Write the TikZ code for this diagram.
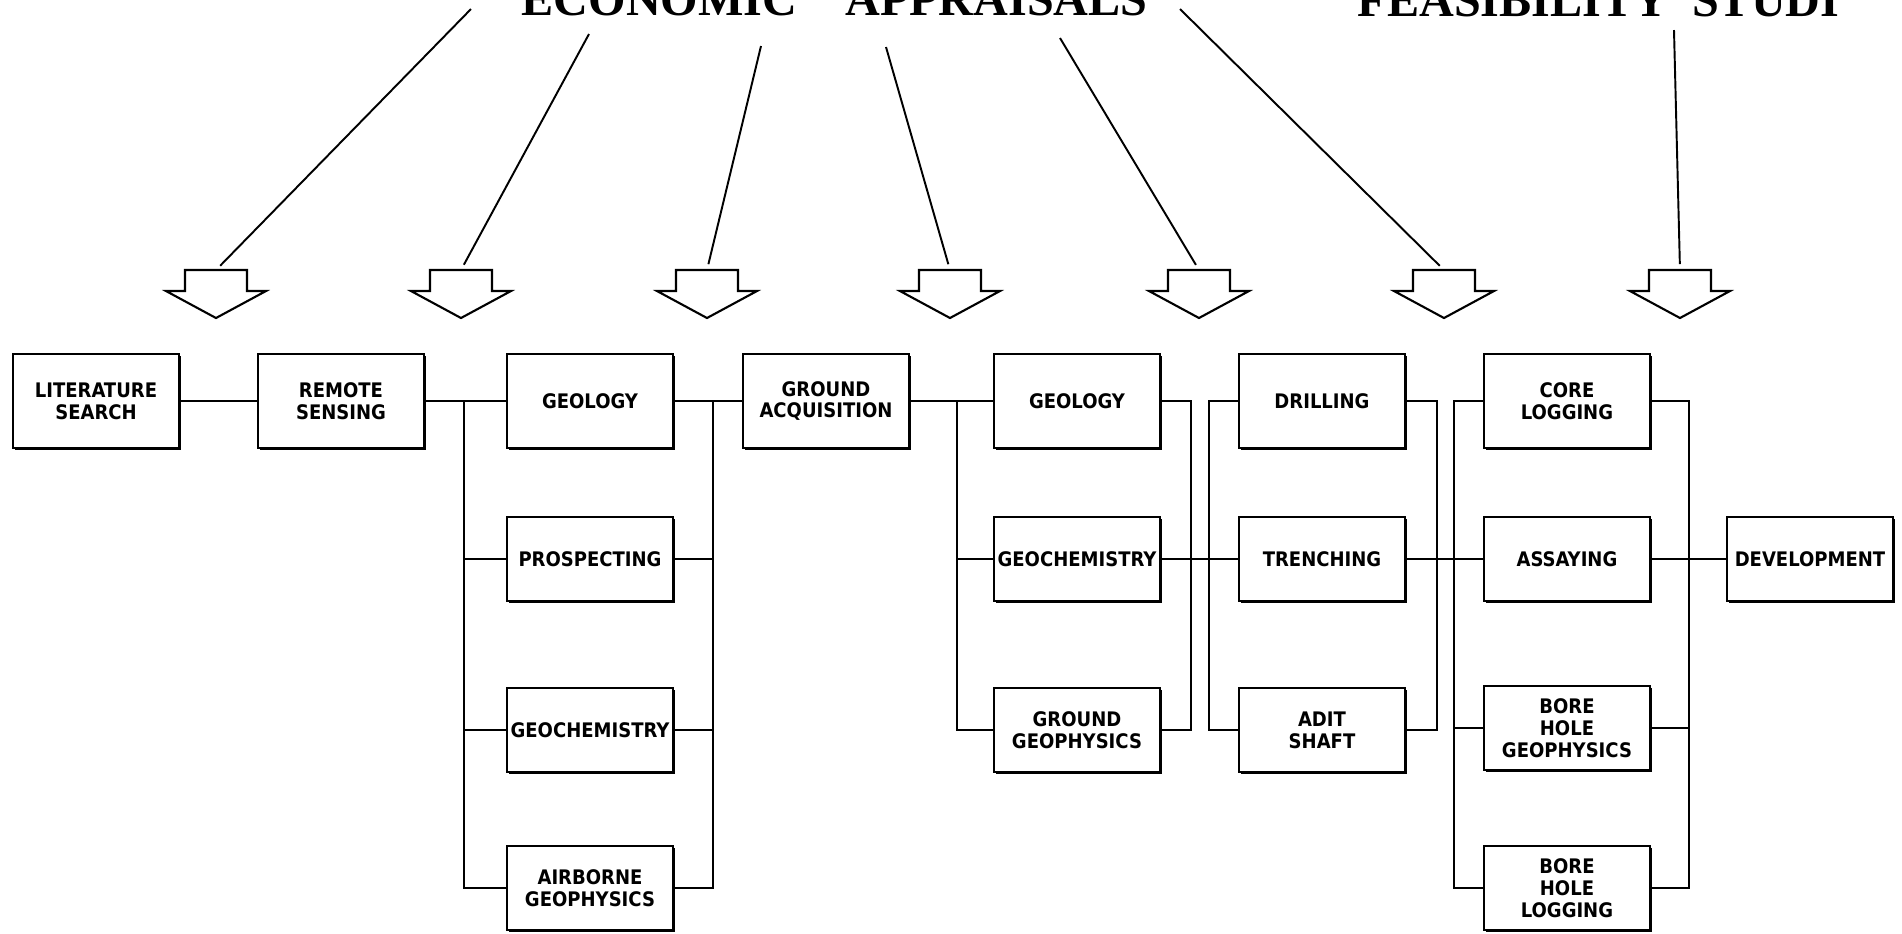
\documentclass[tikz,border=0pt]{standalone}
\usepackage{fontspec}
\newfontfamily\boxfont{DejaVu Sans Condensed}
\newfontfamily\titlefont{Liberation Serif}
\usepackage{tikz}
\usetikzlibrary{positioning, shadows}

\tikzset{
  stage/.style={rectangle, draw, fill=white, line width=0.6pt, minimum width=16.6mm, minimum height=8.4mm, inner sep=0pt, align=center, font={\boxfont\bfseries\fontsize{5.7}{6.2}\selectfont}, drop shadow={shadow xshift=0.22mm, shadow yshift=-0.22mm, opacity=1, fill=black}},
  toprow/.style={minimum height=9.4mm},
  link/.style={line width=0.45pt},
  feed/.style={line width=0.55pt, shorten >=0.6mm},
  titletext/.style={anchor=base west, inner sep=0pt, font={\titlefont\bfseries\fontsize{13.7}{15}\selectfont}},
  bigarrow/.pic={
    \draw[line width=0.6pt, line join=miter] (-31,0) -- (31,0) -- (31,21) -- (50,21) -- (0,48) -- (-50,21) -- (-31,21) -- cycle;
    \coordinate (-top) at (0,0);
  }
}

\begin{document}
\begin{tikzpicture}[x=0.1mm, y=-0.1mm]

\useasboundingbox (0,0) rectangle (1902,933);
\clip (0,0) rectangle (1902,933);

% Headings (cut at the top edge)
\node[titletext] (econ) at (521,15) {ECONOMIC\quad APPRAISALS};
\node[titletext] (feas) at (1357,16) {FEASIBILITY\enspace STUDI};

% Hollow arrows
\pic (ar1) at (216,270) {bigarrow};
\pic (ar2) at (461,270) {bigarrow};
\pic (ar3) at (707,270) {bigarrow};
\pic (ar4) at (950,270) {bigarrow};
\pic (ar5) at (1199,270) {bigarrow};
\pic (ar6) at (1444,270) {bigarrow};
\pic (ar7) at (1680,270) {bigarrow};

% Lines from the headings
\coordinate (t1) at (471,9);
\coordinate (t2) at (589,34);
\coordinate (t3) at (761,46);
\coordinate (t4) at (886,47);
\coordinate (t5) at (1060,38);
\coordinate (t6) at (1180,9);
\coordinate (t7) at (1674,30);
\draw[feed] (t1) -- (ar1-top);
\draw[feed] (t2) -- (ar2-top);
\draw[feed] (t3) -- (ar3-top);
\draw[feed] (t4) -- (ar4-top);
\draw[feed] (t5) -- (ar5-top);
\draw[feed] (t6) -- (ar6-top);
\draw[feed] (t7) -- (ar7-top);

% Stages, first row
\node[stage, toprow] (lit) at (96,401) {LITERATURE\\SEARCH};
\node[stage, toprow] (remote) at (341,401) {REMOTE\\SENSING};
\node[stage, toprow] (geoA) at (590,401) {GEOLOGY};
\node[stage, toprow] (ground) at (826,401) {GROUND\\ACQUISITION};
\node[stage, toprow] (geoB) at (1077,401) {GEOLOGY};
\node[stage, toprow] (drill) at (1322,401) {DRILLING};
\node[stage, toprow] (core) at (1567,401) {CORE\\LOGGING};

% Second row
\node[stage] (prosp) at (590,559) {PROSPECTING};
\node[stage] (geochemB) at (1077,559) {GEOCHEMISTRY};
\node[stage] (trench) at (1322,559) {TRENCHING};
\node[stage] (assay) at (1567,559) {ASSAYING};
\node[stage] (develop) at (1810,559) {DEVELOPMENT};

% Third row
\node[stage] (geochemA) at (590,730) {GEOCHEMISTRY};
\node[stage] (groundgeo) at (1077,730) {GROUND\\GEOPHYSICS};
\node[stage] (adit) at (1322,730) {ADIT\\SHAFT};
\node[stage] (bhgeo) at (1567,728) {BORE\\HOLE\\GEOPHYSICS};

% Fourth row
\node[stage] (airborne) at (590,888) {AIRBORNE\\GEOPHYSICS};
\node[stage] (bhlog) at (1567,888) {BORE\\HOLE\\LOGGING};

% Vertical buses
\coordinate (bus1) at (464,401);
\coordinate (bus2) at (713,401);
\coordinate (bus3) at (957,401);
\coordinate (bus4) at (1191,401);
\coordinate (bus5) at (1209,401);
\coordinate (bus6) at (1437,401);
\coordinate (bus7) at (1454,401);
\coordinate (bus8) at (1689,401);

% Links
\draw[link] (lit) -- (remote);
\draw[link] (remote) -- (geoA);
\draw[link] (bus1) -- (bus1 |- airborne.west) -- (airborne.west);
\draw[link] (bus1 |- prosp.west) -- (prosp.west);
\draw[link] (bus1 |- geochemA.west) -- (geochemA.west);

\draw[link] (geoA) -- (ground);
\draw[link] (bus2) -- (bus2 |- airborne.east) -- (airborne.east);
\draw[link] (prosp.east) -- (bus2 |- prosp.east);
\draw[link] (geochemA.east) -- (bus2 |- geochemA.east);

\draw[link] (ground) -- (geoB);
\draw[link] (bus3) -- (bus3 |- groundgeo.west) -- (groundgeo.west);
\draw[link] (bus3 |- geochemB.west) -- (geochemB.west);

\draw[link] (geoB.east) -- (bus4) -- (bus4 |- groundgeo.east) -- (groundgeo.east);
\draw[link] (drill.west) -- (bus5) -- (bus5 |- adit.west) -- (adit.west);
\draw[link] (geochemB) -- (trench);

\draw[link] (drill.east) -- (bus6) -- (bus6 |- adit.east) -- (adit.east);
\draw[link] (core.west) -- (bus7) -- (bus7 |- bhlog.west) -- (bhlog.west);
\draw[link] (bus7 |- bhgeo.west) -- (bhgeo.west);
\draw[link] (trench) -- (assay);

\draw[link] (core.east) -- (bus8) -- (bus8 |- bhlog.east) -- (bhlog.east);
\draw[link] (bhgeo.east) -- (bus8 |- bhgeo.east);
\draw[link] (assay) -- (develop);

\end{tikzpicture}
\end{document}
